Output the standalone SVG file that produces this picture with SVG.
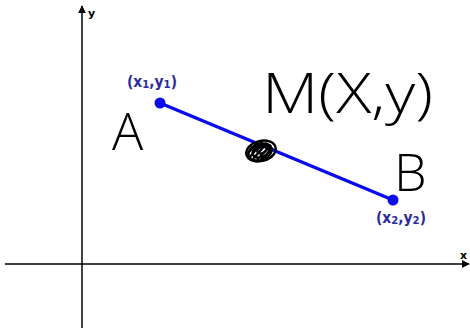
<svg xmlns="http://www.w3.org/2000/svg" width="470" height="329" viewBox="0 0 470 329">
<defs>
<marker id="arr" viewBox="0 0 10 10" refX="9" refY="5" markerWidth="8" markerHeight="8" markerUnits="userSpaceOnUse" orient="auto">
<path d="M0,0 L10,5 L0,10 Z" fill="#000"/>
</marker>
<style>
.axis{stroke:#000;stroke-width:1.5;fill:none}
.axl{font-family:"DejaVu Sans",sans-serif;font-weight:bold;font-size:11px;fill:#000}
.coord{font-family:"DejaVu Sans",sans-serif;font-weight:bold;font-size:15px;fill:#2b2b9e}
.hand{font-family:"Open Sans","DejaVu Sans",sans-serif;font-weight:300;fill:#000}
.seg{stroke:#0a0aee;stroke-width:3.5;fill:none}
.pt{fill:#0a0aee}
</style>
</defs>
<rect width="470" height="329" fill="#fff"/>
<g id="connectors">
<line class="axis" x1="82" y1="328" x2="82" y2="6" marker-end="url(#arr)"/>
<line class="axis" x1="5" y1="264" x2="469" y2="264" marker-end="url(#arr)"/>
<line class="seg" x1="160" y1="103" x2="393" y2="200"/>
</g>
<g id="axis-labels">
<text class="axl" x="88" y="17">y</text>
<text class="axl" x="460" y="259">x</text>
</g>
<g id="pointA">
<circle class="pt" cx="160" cy="103" r="5.5"/>
<text class="coord" x="127" y="87" textLength="50" lengthAdjust="spacingAndGlyphs">(x<tspan font-size="11" dy="1">1</tspan><tspan dy="-1">,y</tspan><tspan font-size="11" dy="1">1</tspan><tspan dy="-1">)</tspan></text>
<text class="hand" x="112" y="150" font-size="52">A</text>
</g>
<g id="pointB">
<circle class="pt" cx="393" cy="200" r="5.5"/>
<text class="coord" x="376" y="223" textLength="50" lengthAdjust="spacingAndGlyphs">(x<tspan font-size="11" dy="1">2</tspan><tspan dy="-1">,y</tspan><tspan font-size="11" dy="1">2</tspan><tspan dy="-1">)</tspan></text>
<text class="hand" x="394" y="191" font-size="52">B</text>
</g>
<g id="midpointM">
<text class="hand" x="262" y="113" font-size="56" textLength="171" lengthAdjust="spacingAndGlyphs">M(X,y)</text>
<g fill="none" stroke="#000" stroke-width="2.4">
<ellipse cx="261" cy="151" rx="15" ry="10" transform="rotate(-15 261 151)"/>
<ellipse cx="260" cy="152" rx="12" ry="8" transform="rotate(-20 260 152)"/>
<ellipse cx="261" cy="151" rx="9" ry="6" transform="rotate(-25 261 151)"/>
<ellipse cx="262" cy="150" rx="5" ry="3" transform="rotate(-25 262 150)"/>
<path d="M250,157 L262,142 M253,159 L267,143 M257,160 L271,145 M248,153 L258,142 M261,160 L273,148"/>
</g>
</g>
</svg>
